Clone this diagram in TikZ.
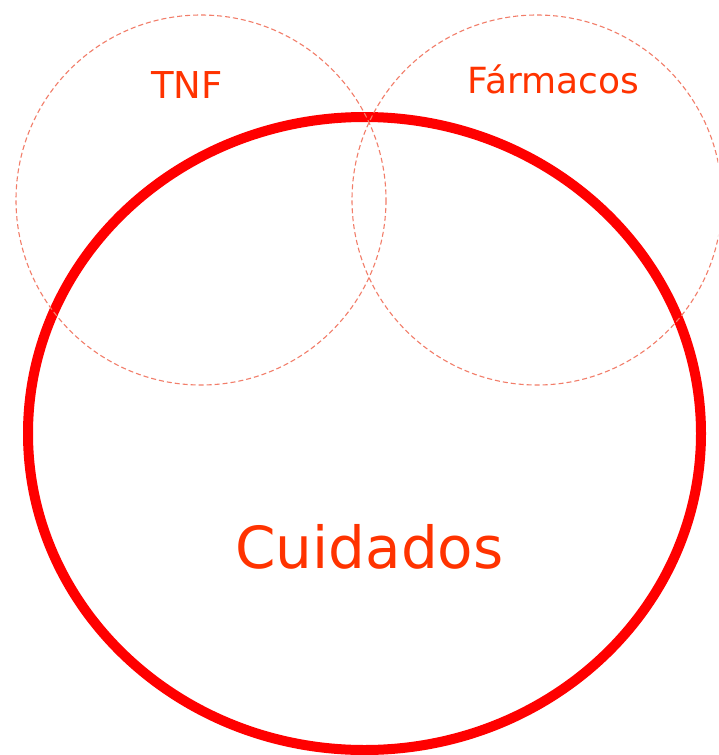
\documentclass[tikz,border=0pt]{standalone}
\usepackage{fontspec}
\setmainfont{DejaVu Sans}
\definecolor{txtred}{RGB}{255,51,0}
\definecolor{bigred}{RGB}{255,0,0}
\definecolor{dashred}{RGB}{242,125,105}
\begin{document}
\begin{tikzpicture}[x=1pt,y=-1pt,
  setcircle/.style={draw=dashred,line width=1.1pt,dash pattern=on 5pt off 3pt},
  bigset/.style={draw=bigred,line width=10pt},
  lbl/.style={text=txtred,anchor=base,inner sep=0pt}]
\useasboundingbox (0,0) rectangle (718,755);
\clip (0,0) rectangle (718,755);
\fill[white] (0,0) rectangle (718,755);
\draw[bigset] (364.5,433.5) ellipse [x radius=336.5, y radius=316.5];
\draw[setcircle] (201,200) circle [radius=185];
\draw[setcircle] (537,200) circle [radius=185];
\node[lbl,font=\fontsize{37}{40}\selectfont] (tnf) at (187,98) {TNF};
\node[lbl,font=\fontsize{36}{40}\selectfont] (farm) at (553.5,93) {Fármacos};
\node[lbl,font=\fontsize{58}{62}\selectfont] (cuid) at (369.5,568) {Cuidados};
\end{tikzpicture}
\end{document}
